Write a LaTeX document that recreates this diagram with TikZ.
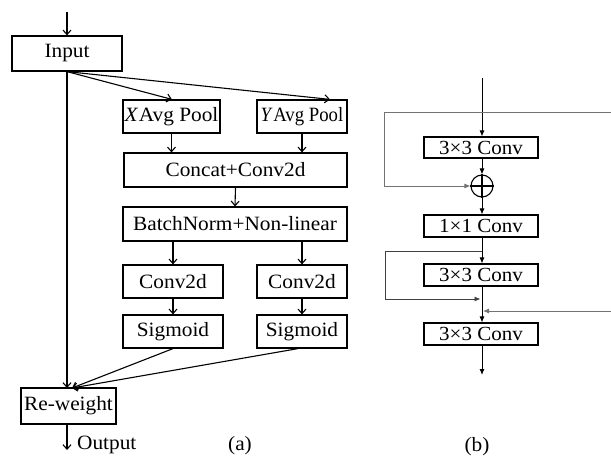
\documentclass[tikz,border=0pt]{standalone}
\usepackage{fontspec}
\setmainfont{Liberation Serif}[FakeStretch=1.05]
\usetikzlibrary{arrows.meta}
\tikzset{
  wh/.style 2 args={minimum width=#1, minimum height=#2},
  blk/.style={draw, line width=1.2pt, inner sep=0pt, font=\fontsize{20.3}{24}\selectfont},
  sblk/.style={draw, line width=1.1pt, inner sep=0pt, font=\fontsize{20}{22}\selectfont},
  lbl/.style={inner sep=0pt, font=\fontsize{20.3}{24}\selectfont},
  aflow/.style={line width=1.1pt, -{Straight Barb[length=4.5pt,width=8pt]}},
  bflow/.style={line width=0.9pt, -{Latex[length=6pt,width=5pt]}},
  bskip/.style={line width=0.9pt, draw=black!55, -{Latex[length=6pt,width=5pt]}},
  bskipd/.style={line width=0.9pt, draw=black!75, -{Latex[length=6pt,width=5pt]}},
}
\begin{document}
\begin{tikzpicture}[x=1pt,y=-1pt]
\useasboundingbox (0,0) rectangle (611,460);

% ---------- (a) coordinate attention block ----------
\node[blk, wh={110}{35}] (input) at (67,53.5) {Input};
\node[blk, wh={97}{33}]  (xpool) at (171.5,116.5) {\textit{X}\kern0.5pt Avg Pool};
\node[blk, wh={90}{33}]  (ypool) at (302,116.5) {\scalebox{0.88}[1]{\textit{Y}\kern0.5pt Avg Pool}};
\node[blk, wh={223}{34}] (concat) at (235.5,170) {Concat+Conv2d};
\node[blk, wh={224}{34}] (bn) at (235,224) {BatchNorm+Non-linear};
\node[blk, wh={100}{33}] (convl) at (173,281.5) {Conv2d};
\node[blk, wh={90}{33}]  (convr) at (302,281.5) {Conv2d};
\node[blk, wh={100}{33}] (sigl) at (173,331.5) {Sigmoid};
\node[blk, wh={90}{33}]  (sigr) at (302,331.5) {Sigmoid};
\node[blk, wh={95}{36}]  (rw) at (68.5,406) {Re-weight};

\coordinate (ain) at (67,12);
\coordinate (aout) at (67,450);
\coordinate (rwin) at (72,388);
\node[lbl, anchor=base west] (outlbl) at (77,449) {Output};
\node[lbl] (capa) at (240,446) {(a)};

\draw[aflow] (ain) -- (input.north);
\draw[aflow] (input.south) -- ([xshift=0.5pt]xpool.north);
\draw[aflow] (input.south) -- ([xshift=28pt]ypool.north);
\draw[aflow] (xpool.south) -- (xpool.south |- concat.north);
\draw[aflow] (ypool.south) -- (ypool.south |- concat.north);
\draw[aflow] (concat.south) -- (bn.north);
\draw[aflow] (convl.north |- bn.south) -- (convl.north);
\draw[aflow] (convr.north |- bn.south) -- (convr.north);
\draw[aflow] (convl) -- (sigl);
\draw[aflow] (convr) -- (sigr);
\draw[aflow] (input.south) -- (input.south |- rwin);
\draw[aflow] (sigl.south) -- (rwin);
\draw[aflow] ([xshift=-4pt]sigr.south) -- (rwin);
\draw[aflow] (rw.south -| aout) -- (aout);

% ---------- (b) residual stack ----------
\node[sblk, wh={114}{21}] (c1) at (481,147.5) {3×3 Conv};
\node[draw, circle, line width=1.1pt, minimum size=22pt, inner sep=0pt] (plus) at (482,186) {};
\draw[line width=1.1pt] (plus.north) -- (plus.south) (plus.west) -- (plus.east);
\node[sblk, wh={114}{22}] (c2) at (481,226) {1×1 Conv};
\node[sblk, wh={114}{22}] (c3) at (481,275) {3×3 Conv};
\node[sblk, wh={114}{22}] (c4) at (481,334) {3×3 Conv};
\node[lbl] (capb) at (477,447) {(b)};

\coordinate (bin) at (482,78);
\coordinate (bout) at (482,375);
\coordinate (e1) at (611,112.5);
\coordinate (l1) at (384,112.5);
\coordinate (j2) at (482,251);
\coordinate (l2) at (385,251);
\coordinate (m2) at (482,299);
\coordinate (e2) at (611,311);
\coordinate (m3) at (482,311);

\draw[bflow] (bin) -- (bin |- c1.north);
\draw[bflow] (bin |- c1.south) -- (plus.north);
\draw[bflow] (plus.south) -- (plus.south |- c2.north);
\draw[bflow] (bin |- c2.south) -- (bin |- c3.north);
\draw[bflow] (bin |- c3.south) -- (bin |- c4.north);
\draw[bflow] (bin |- c4.south) -- (bout);
\draw[bskip] (e1) -- (l1) |- (plus.west);
\draw[bskipd] (j2) -- (l2) |- ([xshift=-1.5pt]m2);
\draw[bskip] (e2) -- ([xshift=1pt]m3);
\end{tikzpicture}
\end{document}
